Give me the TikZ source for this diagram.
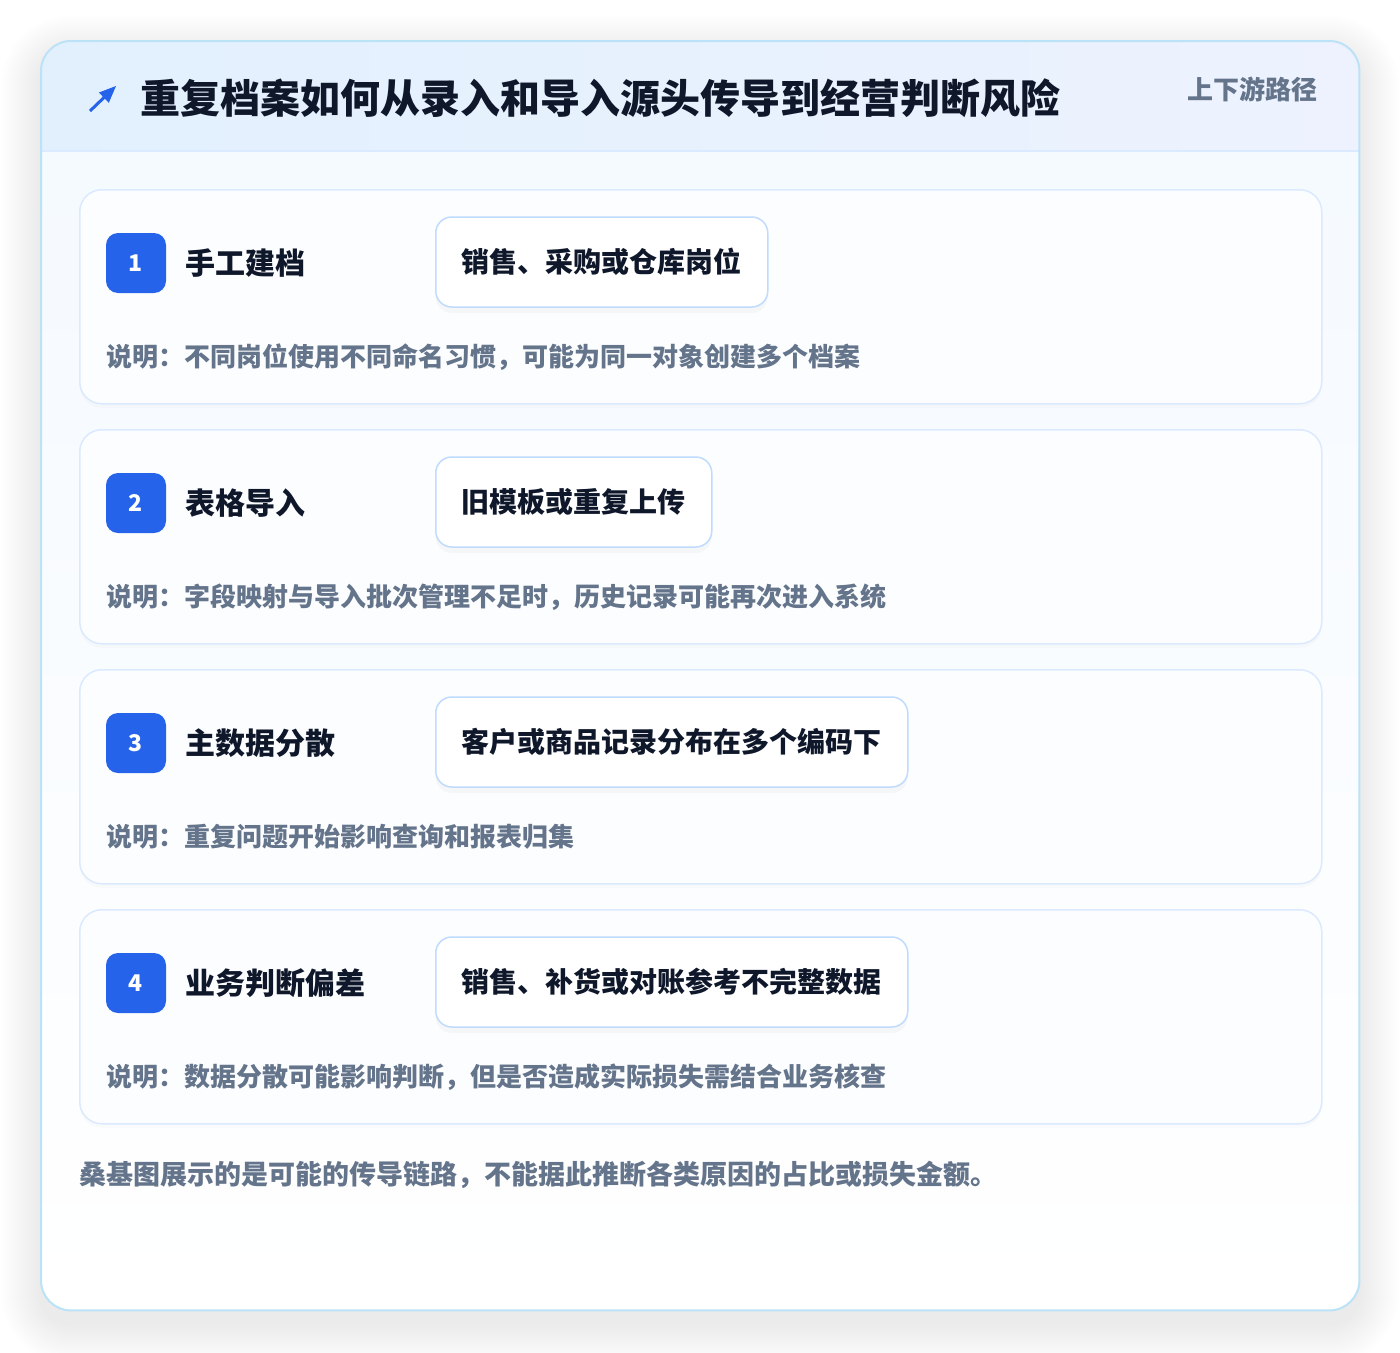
\documentclass[tikz,border=0pt]{standalone}
\usepackage{fontspec}
\setmainfont{Noto Sans CJK SC}
\usetikzlibrary{positioning,shapes,shadows,arrows}

\definecolor{inkdark}{RGB}{15,23,42}
\definecolor{inkgray}{RGB}{100,116,139}
\definecolor{badgeblue}{RGB}{37,99,235}
\definecolor{cardline}{RGB}{219,234,254}
\definecolor{boxline}{RGB}{191,219,254}
\definecolor{frameline}{RGB}{188,226,248}
\definecolor{headleft}{RGB}{226,240,254}
\definecolor{headright}{RGB}{237,242,254}
\definecolor{cardfill}{RGB}{252,253,255}
\definecolor{panelfill}{RGB}{244,249,255}

\newcommand{\fs}[1]{\fontsize{#1}{#1}\selectfont}

\begin{document}
\begin{tikzpicture}[x=1pt,y=-1pt]
\tikzstyle{every node}+=[inner sep=0pt]
\tikzstyle{frame}=[fill=white, top color=panelfill, bottom color=white, rounded corners=30pt, minimum width=1318pt, minimum height=1269pt, anchor=north west]
\tikzstyle{card}=[draw=cardline, line width=1.5pt, fill=cardfill, rounded corners=22pt, minimum width=1242pt, minimum height=214pt, anchor=north west, drop shadow={opacity=0.03, shadow xshift=0pt, shadow yshift=-4pt}]
\tikzstyle{badge}=[fill=badgeblue, rounded corners=12pt, minimum size=60pt, text=white, font=\bfseries\fs{23}]
\tikzstyle{stepname}=[text=inkdark, font=\bfseries\fs{30}]
\tikzstyle{rolebox}=[draw=boxline, line width=1.5pt, fill=white, rounded corners=16pt, minimum height=90pt, inner xsep=26pt, anchor=west, text=inkdark, font=\bfseries\fs{28}, drop shadow={opacity=0.05, shadow xshift=0pt, shadow yshift=-6pt}]
\tikzstyle{note}=[anchor=west, text=inkgray, font=\bfseries\fs{26}]
\useasboundingbox (0,0) rectangle (1400,1352);
\fill [white] (0,0) rectangle (1400,1352);
% soft shadow round the panel
\foreach \d in {2,4,...,40}
  \fill [black, opacity=0.005, rounded corners={30+\d}] (41-\d,55-\d) rectangle (1359+\d,1324+\d);
\node [frame] (panel) at (41,41) {};
% header band
\begin{scope}
\clip [rounded corners=30pt] (panel.north west) rectangle (panel.south east);
\shade [left color=headleft, right color=headright] (panel.north west) rectangle (1359,151);
\draw [cardline, line width=1.5pt] (41,151) -- (1359,151);
\end{scope}
\draw [frameline, line width=2pt, rounded corners=30pt] (panel.north west) rectangle (panel.south east);
\coordinate (icontail) at (90,111);
\coordinate (iconhead) at (116,86);
\draw [badgeblue, line width=3pt, -triangle 45] (icontail) -- (iconhead);
\node [anchor=west, text=inkdark, font=\bfseries\fs{40}] (title) at (140,98) {重复档案如何从录入和导入源头传导到经营判断风险};
\node [anchor=east, text=inkgray, font=\bfseries\fs{26}] (tag) at (1318,89) {上下游路径};
% step 1
\node [card] (card1) at (79,189) {};
\node [badge] (b1) at (136,263) {1};
\node [stepname, right=19pt of b1] (s1) {手工建档};
\node [rolebox] (r1) at (435,262) {销售、采购或仓库岗位};
\node [note] (n1) at (106,357) {说明：不同岗位使用不同命名习惯，可能为同一对象创建多个档案};
% step 2
\node [card] (card2) at (79,429) {};
\node [badge] (b2) at (136,503) {2};
\node [stepname, right=19pt of b2] (s2) {表格导入};
\node [rolebox] (r2) at (435,502) {旧模板或重复上传};
\node [note] (n2) at (106,597) {说明：字段映射与导入批次管理不足时，历史记录可能再次进入系统};
% step 3
\node [card] (card3) at (79,669) {};
\node [badge] (b3) at (136,743) {3};
\node [stepname, right=19pt of b3] (s3) {主数据分散};
\node [rolebox] (r3) at (435,742) {客户或商品记录分布在多个编码下};
\node [note] (n3) at (106,837) {说明：重复问题开始影响查询和报表归集};
% step 4
\node [card] (card4) at (79,909) {};
\node [badge] (b4) at (136,983) {4};
\node [stepname, right=19pt of b4] (s4) {业务判断偏差};
\node [rolebox] (r4) at (435,982) {销售、补货或对账参考不完整数据};
\node [note] (n4) at (106,1077) {说明：数据分散可能影响判断，但是否造成实际损失需结合业务核查};
% footer
\node [anchor=west, text=inkgray, font=\bfseries\fs{27}] (foot) at (79,1175) {桑基图展示的是可能的传导链路，不能据此推断各类原因的占比或损失金额。};
\end{tikzpicture}
\end{document}
